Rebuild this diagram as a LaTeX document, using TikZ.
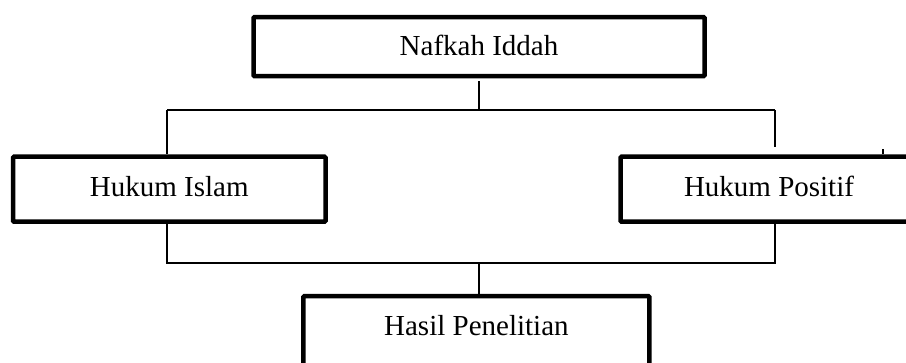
\documentclass[tikz,border=0pt]{standalone}
\usepackage{fontspec}
\setmainfont{Liberation Serif}
\begin{document}
\begin{tikzpicture}[x=1pt,y=-1pt,
  box/.style={draw=black,line width=4.5pt,rounded corners=1pt,inner sep=0pt,
    font=\fontsize{29}{34}\selectfont},
  conn/.style={draw=black,line width=1.3pt}]
\useasboundingbox (0,0) rectangle (906,363);
% boxes
\node[box,minimum width=451,text height=38.5,text depth=20.7,anchor=north] (top) at (479,14.8) {Nafkah Iddah};
\node[box,minimum width=312.5,text height=39.8,text depth=25.2,anchor=north] (isl) at (169.25,154.5) {Hukum Islam};
\node[box,minimum width=297,text height=39.8,text depth=25.2,anchor=north] (pos) at (769,154.5) {Hukum Positif};
\node[box,minimum width=346,text height=39,text depth=41,anchor=north] (res) at (476.4,294) {Hasil Penelitian};
% junction points
\coordinate (jt) at (479,110);
\coordinate (tl) at (167,110);
\coordinate (tr) at (775,110);
\coordinate (jb) at (479,263);
\coordinate (bl) at (167,263);
\coordinate (br) at (775,263);
% upper branch
\draw[conn] ([yshift=-3pt]top.south) -- (jt);
\draw[conn] (tl) -- (tr);
\draw[conn] (tl) -- (tl |- isl.north);
\draw[conn] (tr) -- ([yshift=7pt]tr |- pos.north);
\draw[conn] ([xshift=114pt,yshift=0pt]pos.north) -- ++(0,-5);
% lower branch
\draw[conn] (bl |- isl.south) -- (bl) -- (br) -- (br |- pos.south);
\draw[conn] (jb) -- (jb |- res.north);
\end{tikzpicture}
\end{document}
